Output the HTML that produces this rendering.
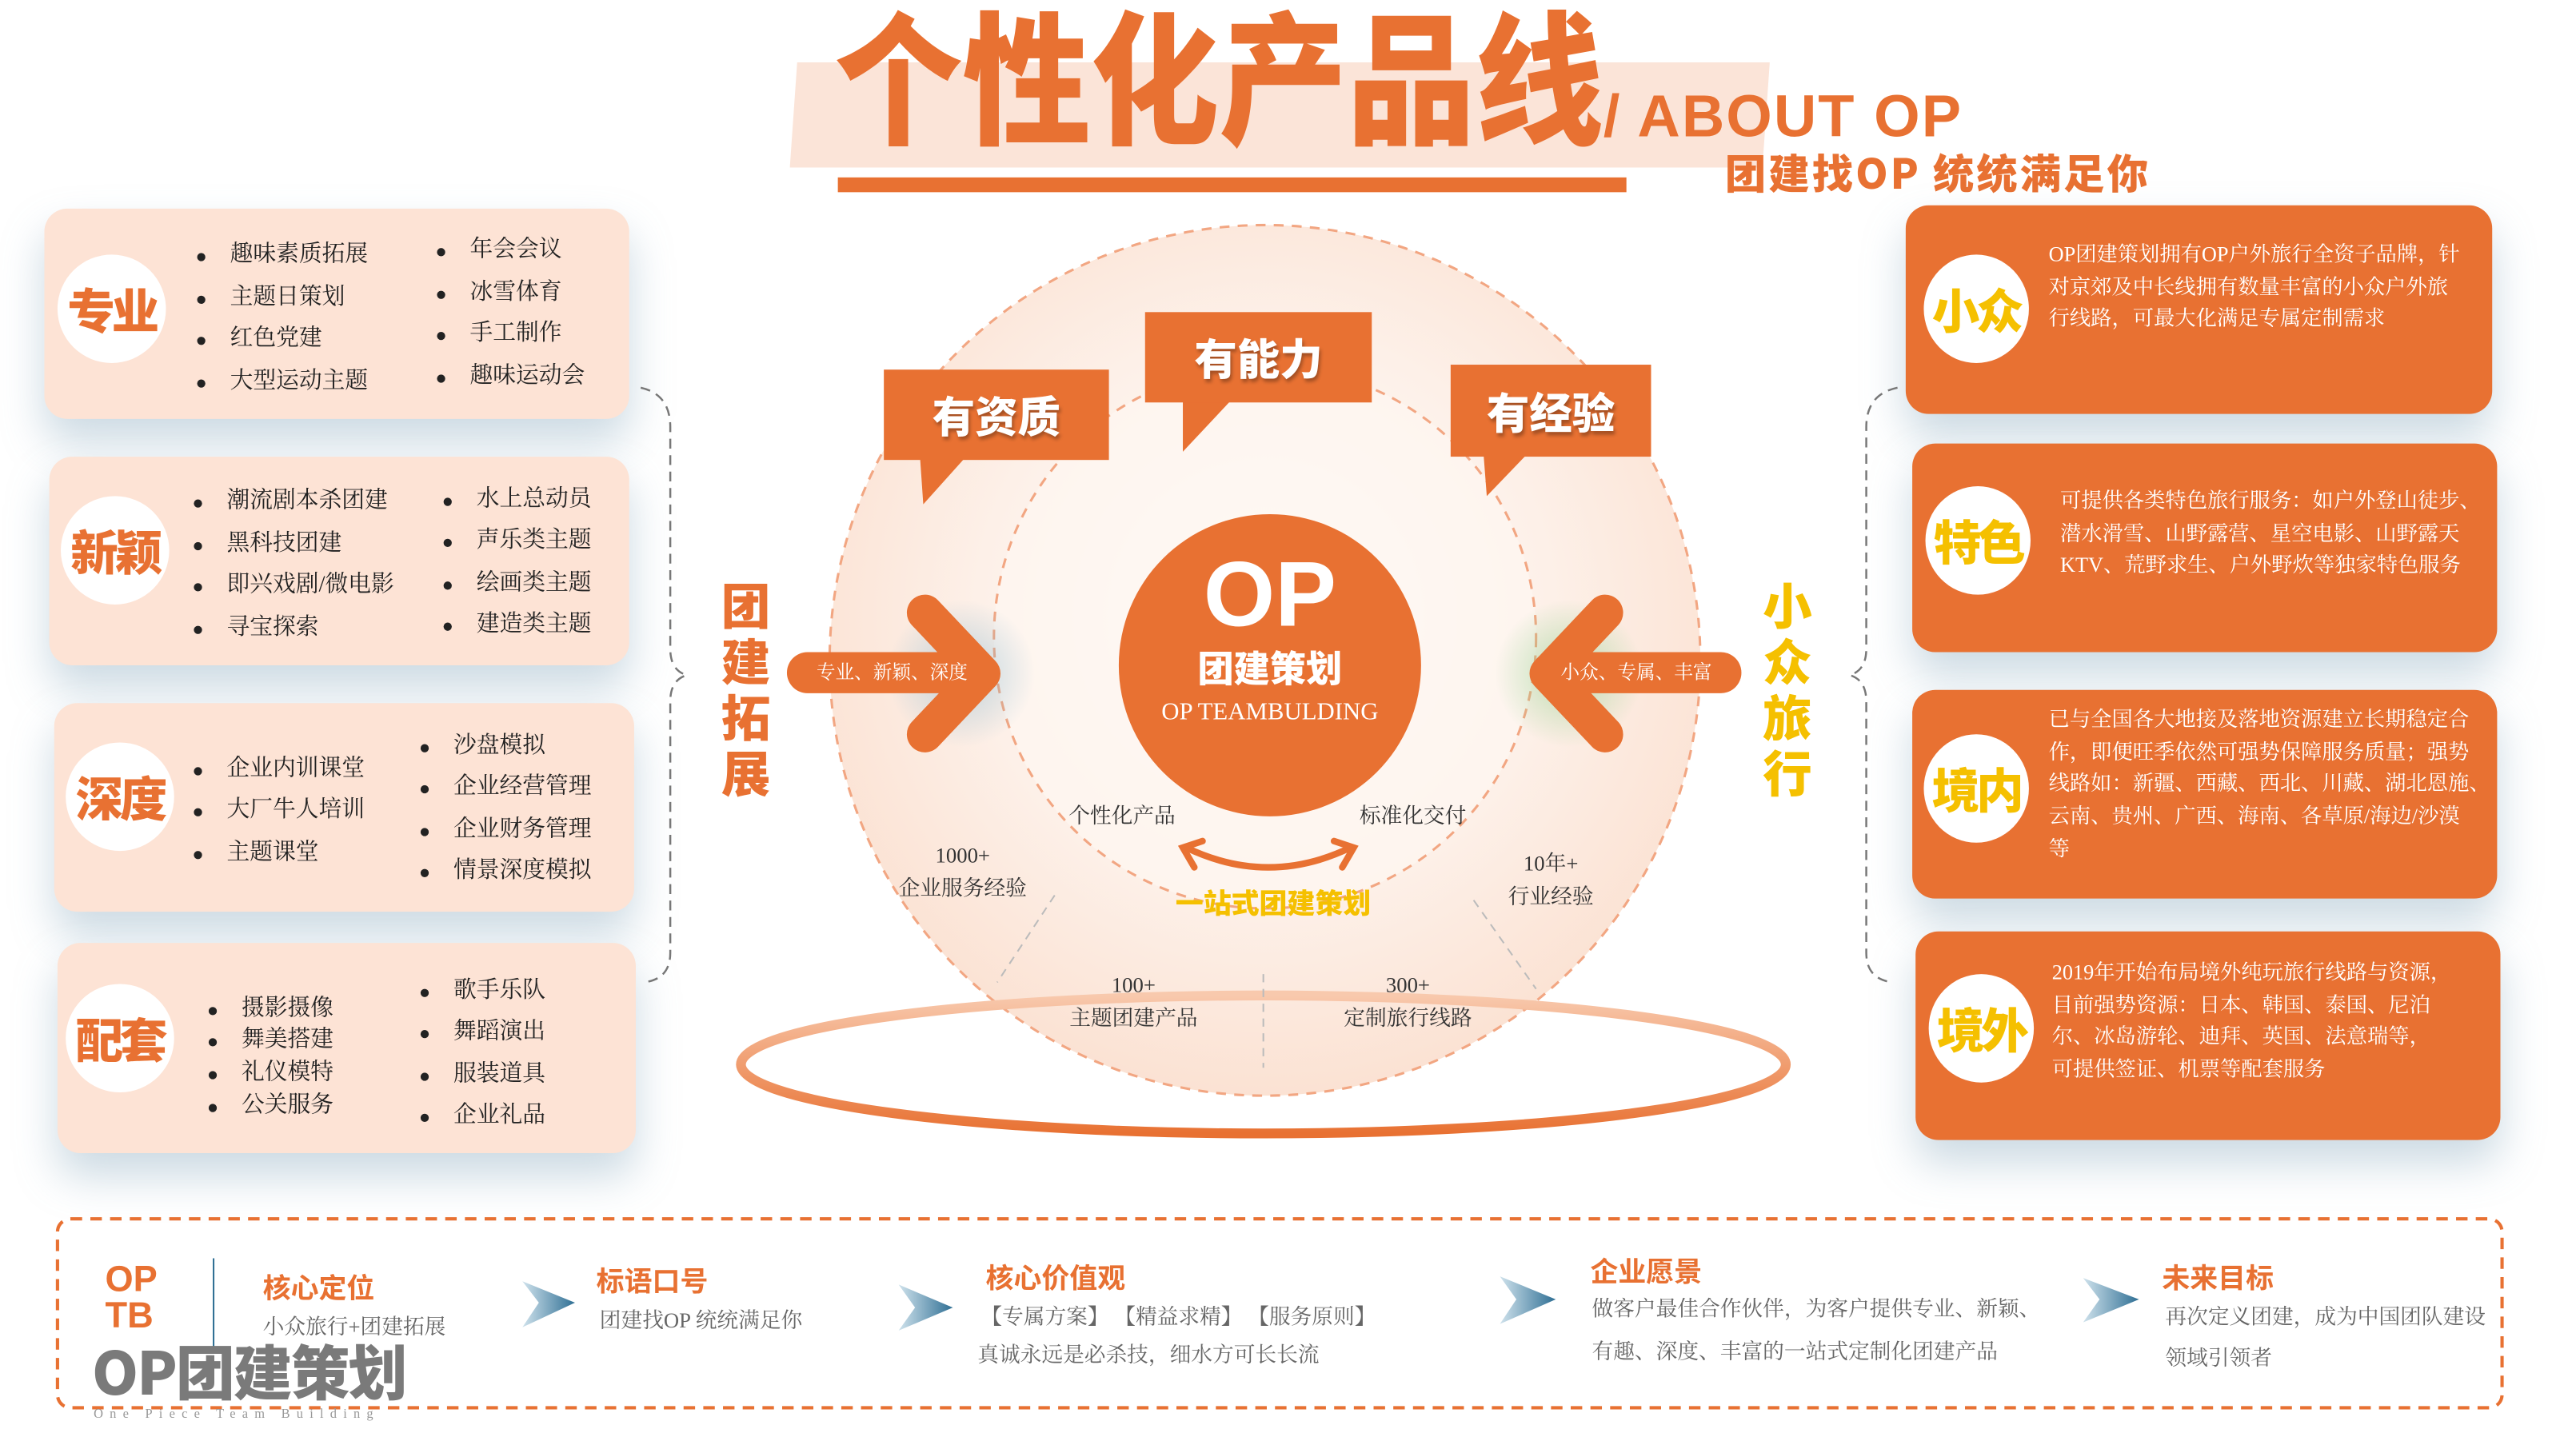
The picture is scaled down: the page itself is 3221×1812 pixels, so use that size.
<!DOCTYPE html>
<html><head><meta charset="utf-8">
<style>
html,body{margin:0;padding:0;width:3221px;height:1812px;overflow:hidden;background:#fff;}
#w{position:absolute;left:0;top:0;width:1568px;height:882px;transform:scale(2.0542);transform-origin:0 0;font-family:"Liberation Serif","Noto Serif CJK SC","Noto Sans CJK SC",serif;}
.a{position:absolute;white-space:nowrap;}
.card{position:absolute;border-radius:14px;box-shadow:0 14px 26px rgba(110,150,175,0.35);}
.lc{background:#fde3d5;}
.rc{background:#e87132;}
.circ{position:absolute;width:66px;height:66px;border-radius:50%;background:#fff;display:flex;align-items:center;justify-content:center;font-family:"Noto Sans CJK SC",sans-serif;font-weight:900;font-size:29px;letter-spacing:-2px;}
.li{position:absolute;font-size:14px;color:#222;line-height:16px;white-space:nowrap;}
.li:before{content:"";position:absolute;left:-20px;top:6px;width:5px;height:5px;border-radius:50%;background:#222;}
.rt{position:absolute;font-size:12.8px;color:#fff;line-height:19.7px;white-space:nowrap;}
.bub{position:absolute;background:#e87132;color:#fff;font-family:"Noto Sans CJK SC",sans-serif;font-weight:900;font-size:26px;display:flex;align-items:center;justify-content:center;text-shadow:1px 2px 2px rgba(0,0,0,.3);}
.sm{position:absolute;font-size:13px;color:#333;text-align:center;line-height:20px;white-space:nowrap;}
.bh{position:absolute;font-family:"Noto Sans CJK SC",sans-serif;font-weight:700;font-size:17px;color:#e87132;white-space:nowrap;}
.bt{position:absolute;font-size:13px;color:#666;white-space:nowrap;line-height:26px;}
.vt{position:absolute;font-family:"Noto Sans CJK SC",sans-serif;font-weight:900;font-size:30px;line-height:34px;width:34px;text-align:center;}
</style></head><body>
<div id="w">
<!-- title -->
<div class="a" style="left:483px;top:38px;width:592px;height:64px;background:#fbe4d8;transform:skewX(-4deg);"></div>
<div class="a" style="left:508px;top:0px;font-family:'Noto Sans CJK SC',sans-serif;font-weight:900;font-size:78px;line-height:100px;color:#e87132;letter-spacing:0px;transform:scaleY(1.12);transform-origin:0 100%;">个性化产品线</div>
<div class="a" style="left:510px;top:108px;width:480px;height:9px;background:#e87132;"></div>
<div class="a" style="left:976px;top:50px;font-family:'Liberation Sans',sans-serif;font-weight:700;font-size:36px;color:#e87132;letter-spacing:1px;">/ ABOUT OP</div>
<div class="a" style="left:1050px;top:87px;font-family:'Noto Sans CJK SC',sans-serif;font-weight:900;font-size:25px;line-height:36px;color:#e87132;letter-spacing:1.5px;">团建找OP 统统满足你</div>

<!-- left cards -->
<div class="card lc" style="left:27px;top:127px;width:356px;height:128px;"></div>
<div class="circ" style="left:35px;top:155px;color:#e87132;">专业</div>
<div class="li" style="left:140px;top:148px;">趣味素质拓展</div><div class="li" style="left:140px;top:174px;">主题日策划</div><div class="li" style="left:140px;top:199px;">红色党建</div><div class="li" style="left:140px;top:225px;">大型运动主题</div>
<div class="li" style="left:286px;top:145px;">年会会议</div><div class="li" style="left:286px;top:171px;">冰雪体育</div><div class="li" style="left:286px;top:196px;">手工制作</div><div class="li" style="left:286px;top:222px;">趣味运动会</div>

<div class="card lc" style="left:30px;top:278px;width:353px;height:127px;"></div>
<div class="circ" style="left:37px;top:302px;color:#e87132;">新颖</div>
<div class="li" style="left:138px;top:298px;">潮流剧本杀团建</div><div class="li" style="left:138px;top:324px;">黑科技团建</div><div class="li" style="left:138px;top:349px;">即兴戏剧/微电影</div><div class="li" style="left:138px;top:375px;">寻宝探索</div>
<div class="li" style="left:290px;top:297px;">水上总动员</div><div class="li" style="left:290px;top:322px;">声乐类主题</div><div class="li" style="left:290px;top:348px;">绘画类主题</div><div class="li" style="left:290px;top:373px;">建造类主题</div>

<div class="card lc" style="left:33px;top:428px;width:353px;height:127px;"></div>
<div class="circ" style="left:40px;top:452px;color:#e87132;">深度</div>
<div class="li" style="left:138px;top:461px;">企业内训课堂</div><div class="li" style="left:138px;top:486px;">大厂牛人培训</div><div class="li" style="left:138px;top:512px;">主题课堂</div>
<div class="li" style="left:276px;top:447px;">沙盘模拟</div><div class="li" style="left:276px;top:472px;">企业经营管理</div><div class="li" style="left:276px;top:498px;">企业财务管理</div><div class="li" style="left:276px;top:523px;">情景深度模拟</div>

<div class="card lc" style="left:35px;top:574px;width:352px;height:128px;"></div>
<div class="circ" style="left:40px;top:599px;color:#e87132;">配套</div>
<div class="li" style="left:147px;top:607px;">摄影摄像</div><div class="li" style="left:147px;top:626px;">舞美搭建</div><div class="li" style="left:147px;top:646px;">礼仪模特</div><div class="li" style="left:147px;top:666px;">公关服务</div>
<div class="li" style="left:276px;top:596px;">歌手乐队</div><div class="li" style="left:276px;top:621px;">舞蹈演出</div><div class="li" style="left:276px;top:647px;">服装道具</div><div class="li" style="left:276px;top:672px;">企业礼品</div>

<!-- right cards -->
<div class="card rc" style="left:1160px;top:125px;width:357px;height:127px;"></div>
<div class="circ" style="left:1171px;top:155px;width:64px;color:#f5c000;">小众</div>
<div class="rt" style="left:1247px;top:146px;">OP团建策划拥有OP户外旅行全资子品牌，针<br>对京郊及中长线拥有数量丰富的小众户外旅<br>行线路，可最大化满足专属定制需求</div>
<div class="card rc" style="left:1164px;top:270px;width:356px;height:127px;"></div>
<div class="circ" style="left:1172px;top:296px;width:64px;color:#f5c000;">特色</div>
<div class="rt" style="left:1254px;top:296px;">可提供各类特色旅行服务：如户外登山徒步、<br>潜水滑雪、山野露营、星空电影、山野露天<br>KTV、荒野求生、户外野炊等独家特色服务</div>
<div class="card rc" style="left:1164px;top:420px;width:356px;height:127px;"></div>
<div class="circ" style="left:1171px;top:447px;width:64px;color:#f5c000;">境内</div>
<div class="rt" style="left:1247px;top:429px;">已与全国各大地接及落地资源建立长期稳定合<br>作，即便旺季依然可强势保障服务质量；强势<br>线路如：新疆、西藏、西北、川藏、湖北恩施、<br>云南、贵州、广西、海南、各草原/海边/沙漠<br>等</div>
<div class="card rc" style="left:1166px;top:567px;width:356px;height:127px;"></div>
<div class="circ" style="left:1174px;top:593px;width:64px;color:#f5c000;">境外</div>
<div class="rt" style="left:1249px;top:583px;">2019年开始布局境外纯玩旅行线路与资源，<br>目前强势资源：日本、韩国、泰国、尼泊<br>尔、冰岛游轮、迪拜、英国、法意瑞等，<br>可提供签证、机票等配套服务</div>

<!-- svg center -->
<svg class="a" style="left:0;top:0" width="1568" height="882" viewBox="0 0 1568 882">
<defs>
<radialGradient id="g1" cx="50%" cy="45%" r="55%"><stop offset="0" stop-color="#fff" stop-opacity="1"/><stop offset="0.6" stop-color="#fdf0e8"/><stop offset="1" stop-color="#fbe2d3"/></radialGradient>
<linearGradient id="rg" x1="0" y1="0" x2="0" y2="1"><stop offset="0" stop-color="#f8c9ad"/><stop offset="1" stop-color="#e87132"/></linearGradient>
<radialGradient id="bl" cx="50%" cy="50%" r="50%"><stop offset="0" stop-color="#7fb3cc" stop-opacity=".5"/><stop offset="1" stop-color="#7fb3cc" stop-opacity="0"/></radialGradient>
<radialGradient id="gr" cx="50%" cy="50%" r="50%"><stop offset="0" stop-color="#8fcf8a" stop-opacity=".6"/><stop offset="1" stop-color="#8fcf8a" stop-opacity="0"/></radialGradient>
<linearGradient id="ar" x1="0" y1="0" x2="1" y2="0"><stop offset="0" stop-color="#cfe2ec"/><stop offset="1" stop-color="#2f6f94"/></linearGradient>
</defs>
<circle cx="770" cy="402" r="265" fill="url(#g1)" stroke="#f2a682" stroke-width="1.5" stroke-dasharray="6 5"/>
<circle cx="770" cy="388" r="165" fill="#fef6f1" fill-opacity=".7" stroke="#f2a682" stroke-width="1.5" stroke-dasharray="6 5"/>
<ellipse cx="769" cy="648" rx="318" ry="42" fill="none" stroke="url(#rg)" stroke-width="6"/>
<line x1="769" y1="593" x2="769" y2="650" stroke="#bbb" stroke-dasharray="5 4"/>
<line x1="642" y1="545" x2="607" y2="598" stroke="#bbb" stroke-dasharray="5 4"/>
<line x1="897" y1="548" x2="935" y2="602" stroke="#bbb" stroke-dasharray="5 4"/>
<path d="M390 236 Q408 240 408 260 L408 395 Q408 408 418 411 Q408 414 408 427 L408 580 Q408 596 392 598" fill="none" stroke="#777" stroke-dasharray="6 4" stroke-width="1.2"/>
<path d="M1155 236 Q1136 240 1136 260 L1136 395 Q1136 408 1126 411 Q1136 414 1136 427 L1136 580 Q1136 596 1152 598" fill="none" stroke="#777" stroke-dasharray="6 4" stroke-width="1.2"/>
<circle cx="585" cy="410" r="45" fill="url(#bl)"/>
<circle cx="955" cy="410" r="45" fill="url(#gr)"/>
<polyline points="563,373 598,410 563,447" fill="none" stroke="#e87132" stroke-width="22" stroke-linecap="round" stroke-linejoin="round"/>
<polyline points="977,373 942,410 977,447" fill="none" stroke="#e87132" stroke-width="22" stroke-linecap="round" stroke-linejoin="round"/>
<rect x="479" y="397" width="127" height="25" rx="12.5" fill="#e87132"/>
<rect x="932" y="397" width="128" height="25" rx="12.5" fill="#e87132"/>
<polygon points="560,278 588,278 562,307" fill="#e87132"/>
<polygon points="720,243 750,243 720,275" fill="#e87132"/>
<polygon points="903,276 930,276 905,302" fill="#e87132"/>
<circle cx="773" cy="405" r="92" fill="#e87132"/>
<path d="M722 516 Q772 540 822 516" fill="none" stroke="#e87132" stroke-width="4"/>
<polyline points="732,512 720,516 727,528" fill="none" stroke="#e87132" stroke-width="4" stroke-linecap="round"/>
<polyline points="812,512 824,516 817,528" fill="none" stroke="#e87132" stroke-width="4" stroke-linecap="round"/>
<g fill="url(#ar)">
<polygon points="318,780 350,793 318,808 328,793"/>
<polygon points="547,782 580,796 547,810 557,796"/>
<polygon points="913,777 947,791 913,806 923,791"/>
<polygon points="1268,778 1302,791 1268,805 1278,791"/>
</g>
<rect x="35" y="742" width="1488" height="115" rx="8" fill="none" stroke="#e87132" stroke-width="2" stroke-dasharray="7 5"/>
<line x1="130" y1="766" x2="130" y2="824" stroke="#2f6f94" stroke-width="1"/>
</svg>

<div class="bub" style="left:538px;top:225px;width:137px;height:55px;">有资质</div>
<div class="bub" style="left:697px;top:190px;width:138px;height:55px;">有能力</div>
<div class="bub" style="left:883px;top:222px;width:122px;height:56px;">有经验</div>
<div class="a" style="left:483px;top:401px;width:120px;text-align:center;font-size:11.5px;color:#fff;">专业、新颖、深度</div>
<div class="a" style="left:936px;top:401px;width:120px;text-align:center;font-size:11.5px;color:#fff;">小众、专属、丰富</div>
<div class="a" style="left:681px;top:332px;width:184px;text-align:center;font-family:'Liberation Sans',sans-serif;font-weight:900;font-size:56px;line-height:60px;color:#fff;">OP</div>
<div class="a" style="left:681px;top:390px;width:184px;text-align:center;font-family:'Noto Sans CJK SC',sans-serif;font-weight:900;font-size:22px;color:#fff;line-height:32px;">团建策划</div>
<div class="a" style="left:681px;top:426px;width:184px;text-align:center;font-size:15px;color:#fff;">OP TEAMBULDING</div>

<div class="vt" style="left:437px;top:350px;color:#e87132;">团<br>建<br>拓<br>展</div>
<div class="vt" style="left:1071px;top:350px;color:#f5c000;">小<br>众<br>旅<br>行</div>

<div class="sm" style="left:643px;top:487px;width:80px;">个性化产品</div>
<div class="sm" style="left:820px;top:487px;width:80px;">标准化交付</div>
<div class="a" style="left:700px;top:536px;width:150px;text-align:center;font-family:'Noto Sans CJK SC',sans-serif;font-weight:900;font-size:17px;color:#f5c000;">一站式团建策划</div>
<div class="sm" style="left:536px;top:511px;width:100px;">1000+<br>企业服务经验</div>
<div class="sm" style="left:894px;top:516px;width:100px;">10年+<br>行业经验</div>
<div class="sm" style="left:640px;top:590px;width:100px;">100+<br>主题团建产品</div>
<div class="sm" style="left:807px;top:590px;width:100px;">300+<br>定制旅行线路</div>

<!-- bottom -->
<div class="a" style="left:64px;top:768px;font-family:'Liberation Sans',sans-serif;font-weight:900;font-size:22px;line-height:22px;color:#e87132;">OP<br>TB</div>
<div class="a" style="left:56px;top:812px;font-family:'Noto Sans CJK SC',sans-serif;font-weight:900;font-size:36px;line-height:44px;color:#7a7a7a;letter-spacing:-1px;">OP团建策划</div>
<div class="a" style="left:57px;top:856px;font-size:8px;letter-spacing:4px;color:#999;">One Piece Team Building</div>
<div class="bh" style="left:160px;top:770px;">核心定位</div>
<div class="bt" style="left:160px;top:795px;">小众旅行+团建拓展</div>
<div class="bh" style="left:363px;top:766px;">标语口号</div>
<div class="bt" style="left:365px;top:791px;">团建找OP 统统满足你</div>
<div class="bh" style="left:600px;top:764px;">核心价值观</div>
<div class="bt" style="left:597px;top:789px;">【专属方案】 【精益求精】 【服务原则】</div>
<div class="bt" style="left:595px;top:812px;">真诚永远是必杀技，细水方可长长流</div>
<div class="bh" style="left:968px;top:760px;">企业愿景</div>
<div class="bt" style="left:969px;top:784px;">做客户最佳合作伙伴，为客户提供专业、新颖、</div>
<div class="bt" style="left:969px;top:810px;">有趣、深度、丰富的一站式定制化团建产品</div>
<div class="bh" style="left:1316px;top:764px;">未来目标</div>
<div class="bt" style="left:1318px;top:789px;">再次定义团建，成为中国团队建设</div>
<div class="bt" style="left:1318px;top:814px;">领域引领者</div>
</div>
</body></html>
